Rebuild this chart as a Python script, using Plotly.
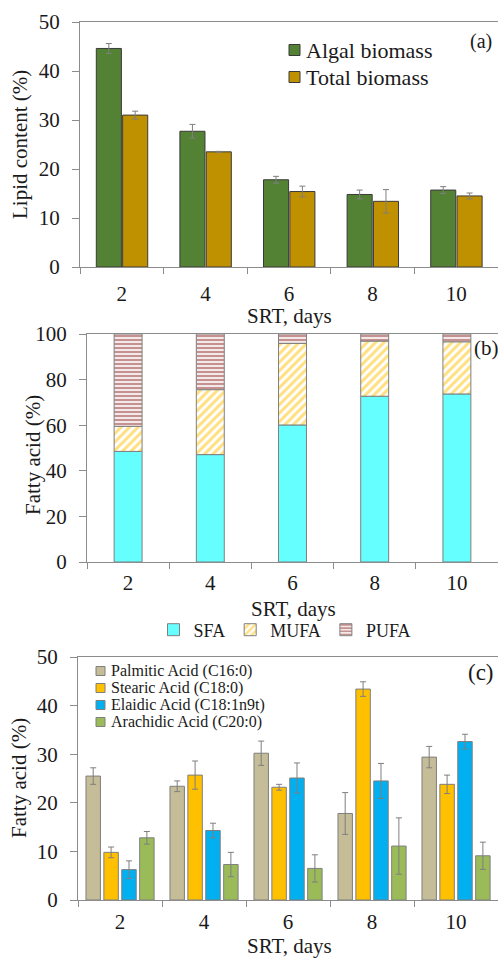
import plotly.graph_objects as go

srt = ["2", "4", "6", "8", "10"]

# Panel (a) lipid content
biomass_names = ["Algal biomass", "Total biomass"]
algal = [44.6, 27.7, 17.8, 14.8, 15.7]
algal_err = [1.0, 1.4, 0.7, 0.9, 0.7]
total = [31.0, 23.5, 15.4, 13.4, 14.5]
total_err = [0.8, 0.1, 1.1, 2.4, 0.6]

# Panel (b) fatty acid classes
sfa = [48.5, 47.1, 60.1, 72.7, 73.7]
mufa = [11.0, 28.5, 35.8, 24.2, 22.9]
pufa = [40.5, 24.4, 4.1, 3.1, 3.4]

# Panel (c) individual fatty acids
acid_names = ["Palmitic Acid (C16:0)", "Stearic Acid (C18:0)",
              "Elaidic Acid (C18:1n9t)", "Arachidic Acid (C20:0)"]
palmitic = [25.5, 23.4, 30.2, 17.8, 29.4]
palmitic_err = [1.7, 1.1, 2.5, 4.3, 2.2]
stearic = [9.8, 25.7, 23.2, 43.4, 23.8]
stearic_err = [1.1, 2.9, 0.6, 1.5, 1.9]
elaidic = [6.25, 14.3, 25.1, 24.5, 32.6]
elaidic_err = [1.8, 1.5, 3.1, 3.6, 1.5]
arachidic = [12.8, 7.3, 6.5, 11.1, 9.1]
arachidic_err = [1.3, 2.5, 2.8, 5.8, 2.8]

FONT = "Liberation Serif, Times New Roman, serif"
AX = "#8c8c8c"
ERR = "#7f7f7f"
TXT = "#1a1a1a"
W, H = 498, 959

def px_x(p):
    return p / W

def px_y(p):
    return 1 - p / H

fig = go.Figure()

def err(vals):
    return dict(type="data", array=vals, color=ERR, thickness=1, width=3)

# (a)
bio_cols = ["#548235", "#BF9000"]
for name, vals, errs, col, off in zip(biomass_names, [algal, total], [algal_err, total_err],
                                      bio_cols, [-0.305, 0.01]):
    fig.add_trace(go.Bar(x=srt, y=vals, name=name, error_y=err(errs), showlegend=False,
                         marker=dict(color=col, line=dict(color="#3a3a3a", width=1)),
                         width=0.3, offset=off, xaxis="x", yaxis="y"))

# (b) stacked via base
base_mufa = list(sfa)
base_pufa = [s + m for s, m in zip(sfa, mufa)]
fig.add_trace(go.Bar(x=srt, y=sfa, name="SFA",
                     marker=dict(color="#66FFFF", line=dict(color="#7f7f7f", width=1)),
                     width=0.34, offset=-0.17, xaxis="x2", yaxis="y2", legend="legend"))
fig.add_trace(go.Bar(x=srt, y=mufa, base=base_mufa, name="MUFA",
                     marker=dict(color="white", line=dict(color="#7f7f7f", width=1),
                                 pattern=dict(shape="/", fgcolor="#FFC000", bgcolor="white",
                                              size=6, solidity=0.5)),
                     width=0.34, offset=-0.17, xaxis="x2", yaxis="y2", legend="legend"))
fig.add_trace(go.Bar(x=srt, y=pufa, base=base_pufa, name="PUFA",
                     marker=dict(color="white", line=dict(color="#7f7f7f", width=1),
                                 pattern=dict(shape="-", fgcolor="#8E2424", bgcolor="white",
                                              size=4, solidity=0.6)),
                     width=0.34, offset=-0.17, xaxis="x2", yaxis="y2", legend="legend"))

# (c)
cw = 0.172
acid_vals = [palmitic, stearic, elaidic, arachidic]
acid_errs = [palmitic_err, stearic_err, elaidic_err, arachidic_err]
acid_cols = ["#C4BD97", "#FFC000", "#00B0F0", "#9BBB59"]
acid_offs = [-0.405, -0.192, 0.021, 0.234]
for name, vals, errs, col, off in zip(acid_names, acid_vals, acid_errs, acid_cols, acid_offs):
    fig.add_trace(go.Bar(x=srt, y=vals, name=name, error_y=err(errs), showlegend=False,
                         marker=dict(color=col, line=dict(color="#7f7f7f", width=1)),
                         width=cw, offset=off, xaxis="x3", yaxis="y3"))

def xax(dom, anchor, lab_off):
    return dict(domain=dom, anchor=anchor, type="category", range=[-0.5, 4.5],
                automargin=False,
                showline=True, linecolor=AX, linewidth=1, mirror=True,
                ticks="outside", tickson="boundaries", ticklen=6, tickcolor=AX,
                ticklabelstandoff=lab_off,
                tickfont=dict(family=FONT, size=21, color=TXT),
                showgrid=False, zeroline=False, fixedrange=True)

def yax(dom, anchor, rng, dtick):
    return dict(domain=dom, anchor=anchor, range=rng, dtick=dtick,
                automargin=False,
                showline=True, linecolor=AX, linewidth=1,
                ticks="outside", ticklen=7, tickcolor=AX, ticklabelstandoff=8,
                tickfont=dict(family=FONT, size=21, color=TXT),
                showgrid=False, zeroline=False, fixedrange=True)

def label(text, x, y, size, angle=0):
    return dict(text=text, x=px_x(x), y=px_y(y), xref="paper", yref="paper", showarrow=False,
                xanchor="center", yanchor="middle", textangle=angle,
                font=dict(family=FONT, size=size, color=TXT))

shapes = []
annotations = [
    label("(a)", 481, 42, 20), label("(b)", 486, 348, 21), label("(c)", 481, 672, 23),
    label("Lipid content (%)", 20, 145, 21, -90),
    label("Fatty acid (%)", 33, 455, 21, -90),
    label("Fatty acid (%)", 19, 778, 21, -90),
    label("SRT, days", 289, 316, 21),
    label("SRT, days", 293, 609, 21),
    label("SRT, days", 289, 946, 21),
]

def key(names, cols, x_sw, sw, x_txt, y0, dy, size, edge):
    for i, (name, col) in enumerate(zip(names, cols)):
        cy = y0 + dy * i
        shapes.append(dict(type="rect", xref="paper", yref="paper",
                           x0=px_x(x_sw), x1=px_x(x_sw + sw), y0=px_y(cy + sw / 2), y1=px_y(cy - sw / 2),
                           fillcolor=col, line=dict(color=edge, width=1)))
        annotations.append(dict(text=name, x=px_x(x_txt), y=px_y(cy), xref="paper", yref="paper",
                                xanchor="left", yanchor="middle", showarrow=False,
                                font=dict(family=FONT, size=size, color=TXT)))

key(biomass_names, bio_cols, 289, 11, 304, 50, 27, 22, "#3a3a3a")
key(acid_names, acid_cols, 96, 9, 109, 671, 17, 16, "#7f7f7f")

fig.update_layout(
    width=W, height=H, autosize=False,
    margin=dict(l=0, r=0, t=0, b=0, autoexpand=False),
    paper_bgcolor="white", plot_bgcolor="white",
    barmode="overlay",
    font=dict(family=FONT, color=TXT),
    xaxis=xax([px_x(80), 1.0], "y", 8),
    yaxis=yax([px_y(267), px_y(22)], "x", [0, 50], 10),
    xaxis2=xax([px_x(87), 1.0], "y2", 2),
    yaxis2=yax([px_y(562), px_y(334)], "x2", [0, 100], 20),
    xaxis3=xax([px_x(78), 1.0], "y3", 3),
    yaxis3=yax([px_y(900), px_y(657)], "x3", [0, 50], 10),
    legend=dict(orientation="h", x=px_x(285), y=px_y(630), xanchor="center", yanchor="middle",
                font=dict(family=FONT, size=18, color=TXT), bgcolor="rgba(0,0,0,0)"),
    shapes=shapes,
    annotations=annotations,
)

fig.write_html("out.html", config={"displayModeBar": False},
               post_script="document.body.style.margin='0';document.body.style.overflow='hidden';")
